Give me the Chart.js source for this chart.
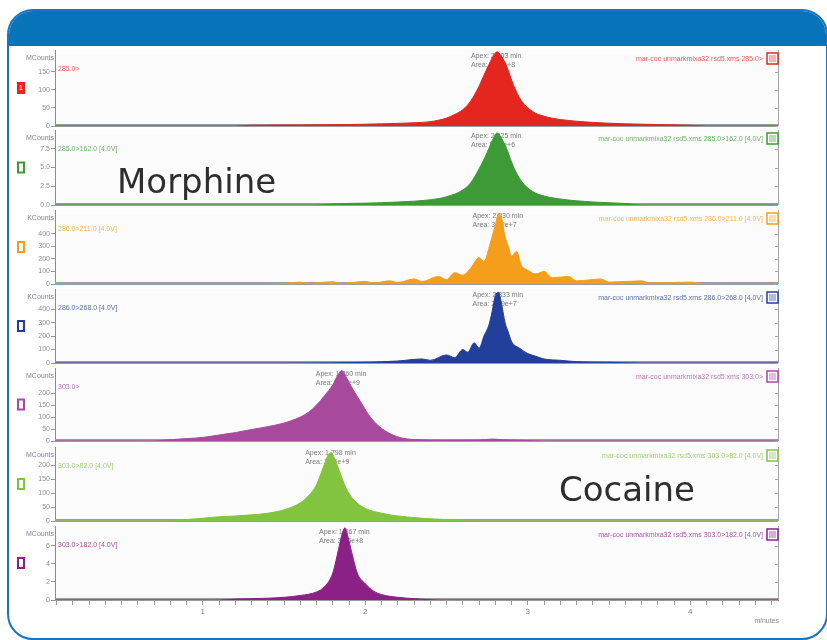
<!DOCTYPE html>
<html lang="en">
<head>
<meta charset="UTF-8">
<title>Morphine / Cocaine MRM chromatograms</title>
<style>
  html, body { margin: 0; padding: 0; overflow: hidden; background: #fff; }
  #frame {
    position: absolute; left: 7px; top: 9px; width: 817px; height: 627px;
    border: 2px solid #1675bd; border-radius: 26px; overflow: hidden; background: #fff;
  }
  #header { position: absolute; left: 0; top: 0; right: 0; height: 35px; background: #0773b8; }
  canvas.panel { position: absolute; left: 10px; }
  .big {
    position: absolute; font-family: "DejaVu Sans", sans-serif; font-size: 34px;
    line-height: 1; color: #2e2e2e; z-index: 5;
  }
</style>
<script src="https://cdn.jsdelivr.net/npm/chart.js"></script>
</head>
<body>
<div id="frame"><div id="header"></div></div>
<div id="charts"></div>
<div class="big" style="left:117px; top:164px;">Morphine</div>
<div class="big" style="left:559px; top:472px;">Cocaine</div>

<script>
// ---- data (time in minutes, signal in axis units) ----

// Morphine, 285.0> (MCounts)
const t285 = [0.09, 1.2, 1.3, 1.6, 1.9, 2.1, 2.3, 2.4, 2.5, 2.55, 2.6, 2.65, 2.7, 2.75, 2.79, 2.81, 2.83, 2.87, 2.91, 2.96, 3.03, 3.1, 3.2, 3.4, 3.6, 3.8, 4.0, 4.1, 4.54];
const y285 = [0, 0, 2, 3, 4, 6, 9, 12, 22, 32, 45, 70, 110, 160, 195, 205, 198, 165, 115, 70, 40, 27, 18, 10, 6, 4, 2, 0, 0];

// Morphine, 285.0>162.0 (MCounts)
const t285_162 = [0.09, 1.7, 1.8, 2.0, 2.2, 2.4, 2.5, 2.6, 2.65, 2.7, 2.75, 2.79, 2.81, 2.83, 2.87, 2.91, 2.96, 3.03, 3.1, 3.2, 3.4, 3.6, 3.7, 4.54];
const y285_162 = [0, 0, 0.15, 0.25, 0.4, 0.7, 1.1, 2.0, 3.0, 4.8, 7.0, 9.0, 9.6, 9.2, 7.5, 5.2, 3.2, 1.8, 1.2, 0.8, 0.4, 0.2, 0, 0];

// Morphine, 286.0>211.0 (KCounts)
const t286_211 = [0.09, 1.45, 1.5, 1.6, 1.65, 1.8, 1.85, 2.0, 2.05, 2.15, 2.2, 2.3, 2.35, 2.45, 2.5, 2.55, 2.6, 2.65, 2.7, 2.73, 2.77, 2.8, 2.82, 2.84, 2.86, 2.88, 2.9, 2.93, 2.96, 3.0, 3.05, 3.1, 3.15, 3.25, 3.3, 3.45, 3.5, 3.7, 3.75, 4.0, 4.1, 4.54];
const y286_211 = [0, 0, 5, 15, 5, 18, 5, 20, 8, 25, 12, 40, 20, 60, 35, 90, 70, 130, 210, 180, 330, 470, 560, 520, 380, 300, 220, 260, 150, 110, 80, 100, 50, 60, 25, 40, 15, 25, 8, 15, 0, 0];

// Morphine, 286.0>268.0 (KCounts)
const t286_268 = [0.09, 1.5, 2.0, 2.2, 2.35, 2.4, 2.5, 2.55, 2.6, 2.63, 2.67, 2.7, 2.73, 2.76, 2.78, 2.8, 2.82, 2.84, 2.86, 2.88, 2.9, 2.95, 3.0, 3.05, 3.1, 3.2, 3.3, 3.5, 3.7, 4.54];
const y286_268 = [0, 0, 5, 15, 30, 20, 60, 40, 100, 80, 150, 110, 200, 280, 380, 500, 525, 430, 300, 230, 160, 110, 70, 50, 30, 20, 10, 5, 0, 0];

// Cocaine, 303.0> (MCounts)
const t303 = [0.09, 0.7, 0.75, 0.9, 1.0, 1.1, 1.2, 1.3, 1.4, 1.5, 1.6, 1.65, 1.7, 1.75, 1.8, 1.83, 1.855, 1.88, 1.92, 1.97, 2.02, 2.07, 2.14, 2.21, 2.3, 2.5, 2.7, 2.78, 2.85, 3.0, 3.08, 4.54];
const y303 = [0, 0, 3, 10, 15, 25, 35, 48, 60, 75, 100, 120, 150, 190, 235, 275, 295, 270, 220, 165, 110, 70, 35, 15, 6, 3, 4, 8, 5, 2, 0, 0];

// Cocaine, 303.0>82.0 (MCounts)
const t303_82 = [0.09, 0.8, 0.9, 1.0, 1.1, 1.2, 1.3, 1.4, 1.5, 1.6, 1.65, 1.7, 1.74, 1.77, 1.79, 1.81, 1.84, 1.88, 1.93, 2.0, 2.1, 2.2, 2.35, 2.5, 2.65, 4.54];
const y303_82 = [0, 0, 5, 10, 15, 18, 22, 28, 40, 65, 90, 130, 190, 235, 245, 225, 180, 120, 75, 45, 28, 18, 10, 5, 0, 0];

// Cocaine, 303.0>182.0 (MCounts)
const t303_182 = [0.09, 1.1, 1.2, 1.4, 1.5, 1.6, 1.7, 1.75, 1.8, 1.84, 1.86, 1.875, 1.89, 1.92, 1.95, 2.0, 2.05, 2.1, 2.2, 2.3, 2.45, 4.54];
const y303_182 = [0, 0, 0.1, 0.2, 0.3, 0.5, 0.9, 1.5, 3.0, 6.0, 7.5, 8.0, 7.2, 5.0, 3.0, 1.8, 1.0, 0.6, 0.3, 0.15, 0, 0];

// axis ticks
const yTicks = [
  [0, 50, 100, 150],
  [0, 2.5, 5, 7.5],
  [0, 100, 200, 300, 400],
  [0, 100, 200, 300, 400],
  [0, 50, 100, 150, 200],
  [0, 50, 100, 150, 200],
  [0, 2, 4, 6]
];
const yTickLabels = [
  ['0', '50', '100', '150'],
  ['0.0', '2.5', '5.0', '7.5'],
  ['0', '100', '200', '300', '400'],
  ['0', '100', '200', '300', '400'],
  ['0', '50', '100', '150', '200'],
  ['0', '50', '100', '150', '200'],
  ['0', '2', '4', '6']
];
const yMax = [210, 10, 590, 550, 305, 265, 8.2];
const yUnits = ['MCounts', 'MCounts', 'KCounts', 'KCounts', 'MCounts', 'MCounts', 'MCounts'];
const xTickLabels = ['1', '2', '3', '4'];

const transitions = ['285.0>', '285.0>162.0 [4.0V]', '286.0>211.0 [4.0V]', '286.0>268.0 [4.0V]',
                     '303.0>', '303.0>82.0 [4.0V]', '303.0>182.0 [4.0V]'];
const apexTimes = ['2.803', '2.825', '2.830', '2.833', '1.860', '1.798', '1.867'];
const areas = ['1.58e+8', '5.74e+6', '3.12e+7', '2.69e+7', '2.47e+9', '1.36e+9', '3.55e+8'];
const peakCentres = [2.81, 2.81, 2.82, 2.82, 1.855, 1.79, 1.875];

const times = [t285, t285_162, t286_211, t286_268, t303, t303_82, t303_182];
const signals = [y285, y285_162, y286_211, y286_268, y303, y303_82, y303_182];
const colors = ['#e4261f', '#3d9a36', '#f49e1c', '#22409b', '#a74a9d', '#82c440', '#8b2087'];

// layout of the stacked panels (page pixels)
const plotTop = [50, 130, 210, 289, 368, 447, 526];
const plotBottom = [126, 205, 284, 363, 441, 521, 600];
const PAD = 6;
const X_MIN = 0.09, X_MAX = 4.54;

const small = { family: '"Liberation Sans", Arial, sans-serif', size: 7 };

function decorPlugin(i) {
  return {
    id: 'decor' + i,
    beforeDatasetsDraw(chart) {
      const { ctx, chartArea: a } = chart;
      ctx.save();
      ctx.fillStyle = '#fcfcfc';
      ctx.fillRect(a.left + 1, a.top, a.right - a.left - 1, a.bottom - a.top);
      // apex / area note, sits behind the peak
      const px = chart.scales.x.getPixelForValue(peakCentres[i]);
      ctx.font = '7px "Liberation Sans", Arial, sans-serif';
      ctx.fillStyle = '#7a7a7a';
      ctx.textAlign = 'left';
      ctx.textBaseline = 'middle';
      ctx.fillText('Apex: ' + apexTimes[i] + ' min', px - 26, a.top + 6);
      ctx.fillText('Area: ' + areas[i], px - 26, a.top + 15);
      // grey baseline bar
      ctx.fillStyle = '#9c9c9c';
      ctx.fillRect(a.left, a.bottom - 2, a.right - a.left, 3);
      ctx.restore();
    },
    afterDraw(chart) {
      const { ctx, chartArea: a } = chart;
      const c = colors[i];
      ctx.save();
      // right frame line with small ticks
      ctx.strokeStyle = '#a8a8a8';
      ctx.lineWidth = 1;
      ctx.beginPath();
      ctx.moveTo(a.right + 0.5, a.top);
      ctx.lineTo(a.right + 0.5, a.bottom);
      yTicks[i].forEach(v => {
        const y = Math.round(chart.scales.y.getPixelForValue(v)) + 0.5;
        ctx.moveTo(a.right - 3, y);
        ctx.lineTo(a.right, y);
      });
      ctx.stroke();

      ctx.font = '7px "Liberation Sans", Arial, sans-serif';
      ctx.textBaseline = 'middle';
      // unit label
      ctx.fillStyle = '#8a7f9a';
      ctx.textAlign = 'right';
      ctx.fillText(yUnits[i], a.left - 1, a.top + 8);
      // transition label inside plot
      ctx.globalAlpha = 0.75;
      ctx.fillStyle = c;
      ctx.textAlign = 'left';
      ctx.fillText(transitions[i], a.left + 3, a.top + 19);
      // file label on the right
      ctx.textAlign = 'right';
      ctx.fillText('mar-coc unmarkmixa32 rsd5.xms ' + transitions[i], a.right - 15, a.top + 9);
      ctx.globalAlpha = 1;
      // right colour box
      ctx.strokeStyle = c;
      ctx.lineWidth = 1.5;
      ctx.fillStyle = '#ffffff';
      ctx.fillRect(a.right - 11, a.top + 3, 11, 11);
      ctx.strokeRect(a.right - 11, a.top + 3, 11, 11);
      ctx.fillStyle = c;
      ctx.globalAlpha = 0.35;
      ctx.fillRect(a.right - 9, a.top + 5, 7, 7);
      ctx.globalAlpha = 1;
      // left trace icon
      const cy = (a.top + a.bottom) / 2;
      if (i === 0) {
        ctx.fillStyle = c;
        ctx.fillRect(7, cy - 6, 8, 12);
        ctx.fillStyle = '#ffffff';
        ctx.textAlign = 'center';
        ctx.fillText('1', 11, cy);
      } else {
        ctx.fillStyle = c;
        ctx.fillRect(7, cy - 6, 8, 12);
        ctx.fillStyle = '#ffffff';
        ctx.fillRect(9, cy - 4, 4, 8);
      }
      if (i === 6) {
        ctx.fillStyle = '#8a8a8a';
        ctx.textAlign = 'right';
        ctx.fillText('minutes', a.right + 1, a.bottom + 21);
      }
      ctx.restore();
    }
  };
}

const holder = document.getElementById('charts');
for (let i = 0; i < 7; i++) {
  const last = i === 6;
  const xAxisH = last ? 24 : 0;
  const canvas = document.createElement('canvas');
  canvas.className = 'panel';
  const h = (plotBottom[i] - plotTop[i]) + PAD * 2 + xAxisH;
  canvas.style.top = (plotTop[i] - PAD) + 'px';
  canvas.style.width = '800px';
  canvas.style.height = h + 'px';
  canvas.width = 800;
  canvas.height = h;
  holder.appendChild(canvas);

  new Chart(canvas.getContext('2d'), {
    type: 'line',
    data: {
      datasets: [{
        data: times[i].map((t, k) => ({ x: t, y: signals[i][k] })),
        borderColor: colors[i],
        backgroundColor: colors[i],
        borderWidth: 1,
        pointRadius: 0,
        fill: 'origin',
        cubicInterpolationMode: 'monotone'
      }]
    },
    options: {
      responsive: false,
      animation: false,
      events: [],
      layout: { padding: { top: PAD, bottom: PAD, left: 0, right: 32 } },
      plugins: { legend: { display: false }, tooltip: { enabled: false } },
      scales: {
        x: {
          type: 'linear',
          min: X_MIN,
          max: X_MAX,
          display: last,
          border: { display: true, color: '#8c8c8c' },
          grid: { display: true, drawOnChartArea: false, tickLength: 5, color: '#9a9a9a' },
          ticks: {
            autoSkip: false,
            maxRotation: 0,
            color: '#7c7c7c',
            font: { family: small.family, size: 8 },
            padding: 2,
            callback: v => {
              const r = Math.round(v * 10) / 10;
              const idx = [1, 2, 3, 4].indexOf(r);
              return idx >= 0 ? xTickLabels[idx] : '';
            }
          },
          afterBuildTicks: s => {
            const ticks = [];
            for (let k = 1; k <= 45; k++) ticks.push({ value: k / 10 });
            s.ticks = ticks;
          },
          afterFit: s => { if (last) s.height = xAxisH; }
        },
        y: {
          min: 0,
          max: yMax[i],
          border: { display: true, color: '#8c8c8c' },
          grid: { display: true, drawOnChartArea: false, tickLength: 4, color: '#9a9a9a' },
          ticks: {
            color: '#8e8e8e',
            font: small,
            padding: 1,
            callback: (v, k) => yTickLabels[i][k]
          },
          afterBuildTicks: s => { s.ticks = yTicks[i].map(v => ({ value: v })); },
          afterFit: s => { s.width = 45; }
        }
      }
    },
    plugins: [decorPlugin(i)]
  });
}
</script>
</body>
</html>
